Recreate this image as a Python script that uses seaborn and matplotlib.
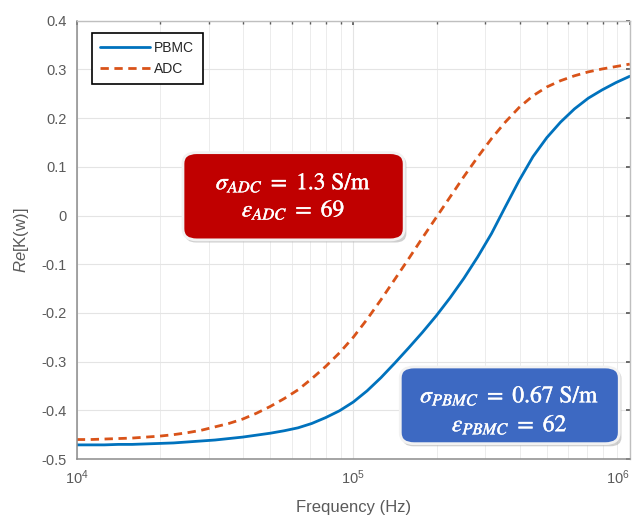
import numpy as np
import pandas as pd
import matplotlib
matplotlib.use("Agg")
import matplotlib.pyplot as plt
import matplotlib.patheffects as pe
import seaborn as sns
from matplotlib.patches import FancyBboxPatch
from matplotlib.ticker import LogLocator, NullFormatter

# ---- data (frequency samples every 0.05 decade) ----
freq_hz = [1.000e4, 1.122e4, 1.259e4, 1.413e4, 1.585e4, 1.778e4, 1.995e4, 2.239e4,
           2.512e4, 2.818e4, 3.162e4, 3.548e4, 3.981e4, 4.467e4, 5.012e4, 5.623e4,
           6.310e4, 7.079e4, 7.943e4, 8.913e4,
           1.000e5, 1.122e5, 1.259e5, 1.413e5, 1.585e5, 1.778e5, 1.995e5, 2.239e5,
           2.512e5, 2.818e5, 3.162e5, 3.548e5, 3.981e5, 4.467e5, 5.012e5, 5.623e5,
           6.310e5, 7.079e5, 7.943e5, 8.913e5, 1.000e6]
re_pbmc = [-0.471, -0.471, -0.471, -0.470, -0.470, -0.469, -0.468, -0.467, -0.465,
           -0.463, -0.461, -0.458, -0.455, -0.451, -0.447, -0.442, -0.436, -0.427,
           -0.415, -0.401,
           -0.383, -0.360, -0.333, -0.303, -0.272, -0.240, -0.206, -0.169, -0.129,
           -0.085, -0.037, 0.018, 0.072, 0.121, 0.160, 0.192, 0.219, 0.241, 0.258,
           0.273, 0.286]
re_adc = [-0.460, -0.460, -0.459, -0.458, -0.457, -0.455, -0.453, -0.450, -0.446,
          -0.441, -0.434, -0.427, -0.418, -0.406, -0.392, -0.376, -0.358, -0.335,
          -0.310, -0.282,
          -0.250, -0.213, -0.173, -0.131, -0.089, -0.046, -0.004, 0.038, 0.080,
          0.120, 0.158, 0.192, 0.222, 0.246, 0.264, 0.277, 0.287, 0.295, 0.301,
          0.306, 0.311]
series_names = ["PBMC", "ADC"]
y_ticks = [-0.5, -0.4, -0.3, -0.2, -0.1, 0, 0.1, 0.2, 0.3, 0.4]
y_tick_labels = ["-0.5", "-0.4", "-0.3", "-0.2", "-0.1", "0", "0.1", "0.2", "0.3", "0.4"]
x_ticks = [1e4, 1e5, 1e6]
x_tick_labels = [r"$10^{4}$", r"$10^{5}$", r"$10^{6}$"]
box_adc = [r"$\sigma_{ADC}\ =\ \mathrm{1.3\ S/m}$", r"$\varepsilon_{ADC}\ =\ \mathrm{69}$"]
box_pbmc = [r"$\sigma_{PBMC}\ =\ \mathrm{0.67\ S/m}$", r"$\varepsilon_{PBMC}\ =\ \mathrm{62}$"]

df = pd.DataFrame({
    "Frequency (Hz)": freq_hz + freq_hz,
    "Re": re_pbmc + re_adc,
    "Cell": [series_names[0]] * len(freq_hz) + [series_names[1]] * len(freq_hz),
})

# ---- style ----
sns.set_theme(style="whitegrid")
plt.rcParams["font.family"] = ["Liberation Sans", "DejaVu Sans"]
plt.rcParams["mathtext.fontset"] = "custom"
plt.rcParams["mathtext.rm"] = "Liberation Sans"
plt.rcParams["mathtext.it"] = "Liberation Sans:italic"
plt.rcParams["axes.unicode_minus"] = False

fig = plt.figure(figsize=(6.4, 5.19), dpi=100)
ax = fig.add_axes([0.120, 0.1156, 0.864, 0.8444])
ax.set_facecolor("white")
ax.set_xscale("log")

sns.lineplot(data=df, x="Frequency (Hz)", y="Re", hue="Cell", style="Cell",
             palette={"PBMC": "#0072BD", "ADC": "#D95319"},
             dashes={"PBMC": "", "ADC": (3.0, 2.0)},
             linewidth=2.0, ax=ax, legend=True)

ax.set_xlim(1e4, 1e6)
ax.set_ylim(-0.5, 0.4)
ax.set_xticks(x_ticks)
ax.set_xticklabels(x_tick_labels)
ax.xaxis.set_minor_locator(LogLocator(base=10, subs=np.arange(2, 10), numticks=20))
ax.xaxis.set_minor_formatter(NullFormatter())
ax.set_yticks(y_ticks)
ax.set_yticklabels(y_tick_labels)
ax.get_xticklabels()[-1].set_horizontalalignment("right")

ax.grid(True, which="major", color="#e4e4e4", linewidth=0.8)
ax.grid(True, which="minor", axis="x", color="#ececec", linewidth=0.7)
ax.set_axisbelow(True)

tick_c = "#5a5a5a"
ax.tick_params(axis="both", which="both", direction="in", colors=tick_c,
               labelsize=10.5, top=True, right=True, length=3)
ax.tick_params(axis="both", which="minor", length=2)
ax.tick_params(axis="x", pad=7)
ax.tick_params(axis="y", pad=7)
for side in ["left", "bottom"]:
    ax.spines[side].set_color("#8c8c8c")
    ax.spines[side].set_linewidth(1.1)
for side in ["top", "right"]:
    ax.spines[side].set_color("#bfbfbf")
    ax.spines[side].set_linewidth(1.0)

ax.set_xlabel("Frequency (Hz)", color=tick_c, fontsize=12, labelpad=9)
ax.set_ylabel(r"$\mathit{Re}$[K(w)]", color=tick_c, fontsize=12, labelpad=8)

leg = ax.legend(loc="upper left", bbox_to_anchor=(0.027, 0.973), borderaxespad=0,
                fancybox=False, edgecolor="black", framealpha=1, fontsize=10,
                handlelength=3.6, handletextpad=0.3, borderpad=0.6,
                labelspacing=0.5, title=None)
leg.get_frame().set_linewidth(1.2)

# ---- annotation boxes ----
def add_box(x0, y0, w, h, fc, lines, ys):
    shadow = FancyBboxPatch((x0 + 0.004, y0 - 0.006), w, h,
                            boxstyle="round,pad=0,rounding_size=0.02",
                            transform=ax.transAxes, fc="#b0b0b0", ec="none",
                            alpha=0.6, zorder=4)
    ax.add_patch(shadow)
    box = FancyBboxPatch((x0, y0), w, h,
                         boxstyle="round,pad=0,rounding_size=0.025",
                         transform=ax.transAxes, fc=fc, ec="#f2f2f2",
                         linewidth=2.0, zorder=5)
    ax.add_patch(box)
    for t, yy in zip(lines, ys):
        ax.text(x0 + w / 2, yy, t, transform=ax.transAxes, ha="center", va="center",
                color="white", fontsize=17, math_fontfamily="stix", zorder=6,
                path_effects=[pe.withStroke(linewidth=0.3, foreground="white")])

add_box(0.192, 0.50, 0.40, 0.199, "#c00000", box_adc, [0.630, 0.570])
add_box(0.585, 0.035, 0.396, 0.175, "#3d69c2", box_pbmc, [0.146, 0.080])

fig.savefig("out.png", dpi=100)
